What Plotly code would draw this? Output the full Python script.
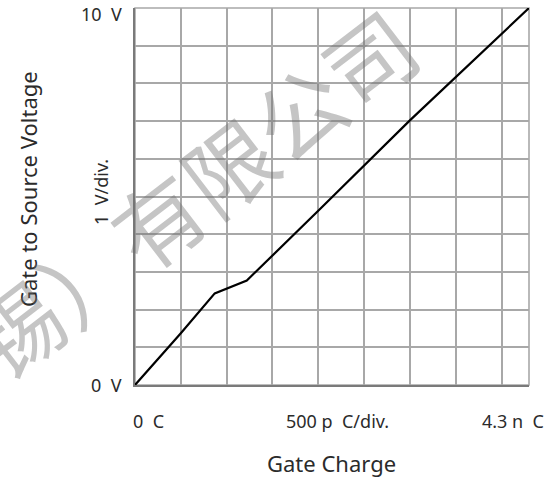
import plotly.graph_objects as go

# Data (gate charge in nC, gate-source voltage in V)
charge_nC = [0, 0.5, 0.87, 1.0, 1.22, 2.0, 3.0, 4.3]
voltage_V = [0, 1.37, 2.43, 2.55, 2.77, 4.62, 7.02, 10]

x_range = [0, 4.3]
y_range = [0, 10]
x_div = 0.5
y_div = 1

y_labels = ["10  V", "0  V"]
x_labels = ["0  C", "500 p  C/div.", "4.3 n  C"]
y_div_label = "1  V/div."
x_title = "Gate Charge"
y_title = "Gate to Source Voltage"
watermark = "锡）有限公司"

FONT = "Noto Sans, Open Sans, DejaVu Sans"
TXT = "#2b2b2b"

fig = go.Figure()
fig.add_trace(go.Scatter(x=charge_nC, y=voltage_V, mode="lines",
                         line=dict(color="black", width=2.2), showlegend=False,
                         hoverinfo="skip"))

W, H = 553, 484
ml, mr, mt, mb = 135, 24, 8, 99
pw, ph = W - ml - mr, H - mt - mb

def px_x(px):
    return (px - ml) / pw

def px_y(py):
    return (H - mb - py) / ph

ann = []
# y axis end labels
ann.append(dict(text=y_labels[0], x=px_x(124), y=px_y(14), xanchor="right", yanchor="middle"))
ann.append(dict(text=y_labels[1], x=px_x(124), y=px_y(385), xanchor="right", yanchor="middle"))
ann.append(dict(text=y_div_label, x=px_x(101), y=px_y(192), xanchor="center", yanchor="middle", textangle=-90))
# x axis labels
ann.append(dict(text=x_labels[0], x=px_x(148), y=px_y(421), xanchor="center", yanchor="middle"))
ann.append(dict(text=x_labels[1], x=px_x(337), y=px_y(421), xanchor="center", yanchor="middle"))
ann.append(dict(text=x_labels[2], x=px_x(546), y=px_y(421), xanchor="right", yanchor="middle"))
for a in ann:
    a.update(xref="paper", yref="paper", showarrow=False, font=dict(family=FONT, size=18, color=TXT))

ann.append(dict(text=x_title, x=px_x(331), y=px_y(463), xanchor="center", yanchor="middle",
                xref="paper", yref="paper", showarrow=False,
                font=dict(family=FONT, size=22, color=TXT)))
ann.append(dict(text=y_title, x=px_x(28), y=px_y(189), xanchor="center", yanchor="middle",
                textangle=-90, xref="paper", yref="paper", showarrow=False,
                font=dict(family=FONT, size=22, color=TXT)))
# watermark
ann.append(dict(text=watermark, x=px_x(192), y=px_y(192), xanchor="center", yanchor="middle",
                textangle=-37.5, xref="paper", yref="paper", showarrow=False,
                font=dict(family="Noto Sans CJK SC", size=89, color="rgba(110,110,110,0.4)")))

fig.update_layout(
    width=W, height=H,
    margin=dict(l=ml, r=mr, t=mt, b=mb),
    paper_bgcolor="white", plot_bgcolor="white",
    annotations=ann,
    xaxis=dict(range=x_range, dtick=x_div, tick0=0, showticklabels=False, ticks="",
               showgrid=True, gridcolor="#a8a8a8", gridwidth=1.6, zeroline=False,
               showline=True, linecolor="#7a7a7a", linewidth=2, mirror=False),
    yaxis=dict(range=y_range, dtick=y_div, tick0=0, showticklabels=False, ticks="",
               showgrid=True, gridcolor="#a8a8a8", gridwidth=1.6, zeroline=False,
               showline=True, linecolor="#7a7a7a", linewidth=2, mirror=False),
    shapes=[dict(type="rect", xref="paper", yref="paper", x0=0, y0=0, x1=1, y1=1,
                 line=dict(color="#a8a8a8", width=1.6), layer="below")],
)

fig.write_html("out.html")
